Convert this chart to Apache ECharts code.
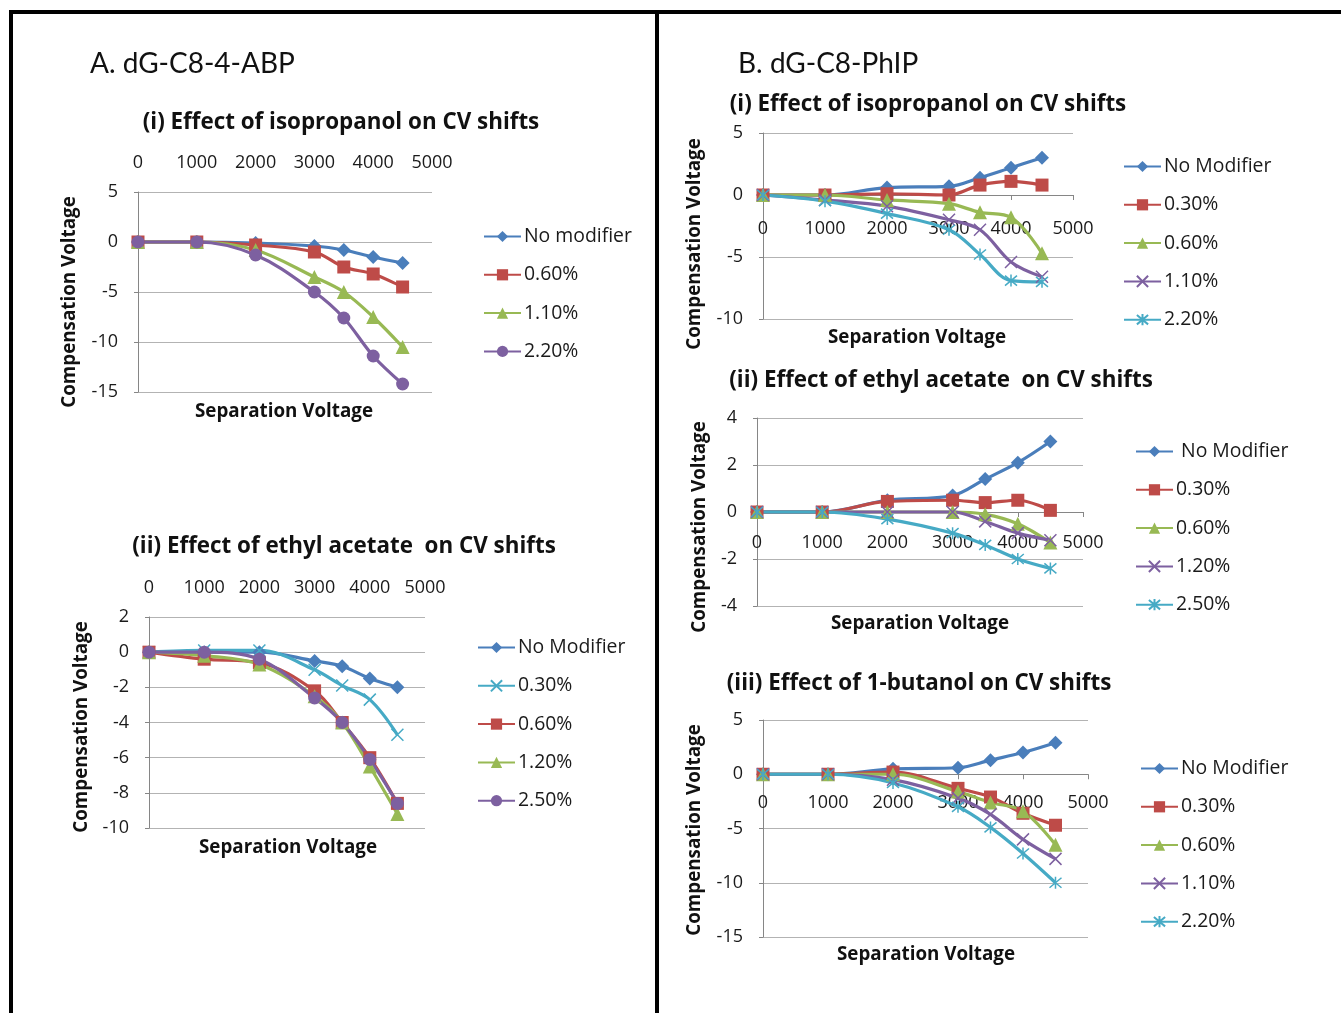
<!DOCTYPE html>
<html lang="en">
  <head>
    <meta charset="UTF-8" />
    <title>CV shifts</title>
    <script src="https://cdn.jsdelivr.net/npm/echarts@6/dist/echarts.min.js"></script>
    <style>
      body { margin: 0; background: #fff; font-family: "Open Sans", sans-serif; }
      #page { position: relative; width: 1341px; height: 1013px; overflow: hidden; }
      .chart { position: absolute; left: 0; top: 0; width: 1341px; height: 1013px; }
      .rule { position: absolute; background: #000; }
      .head { position: absolute; font-size: 28px; color: #111; line-height: 1; font-family: Lato, sans-serif; }
    </style>
  </head>
  <body>
    <div id="page">
      <div class="chart" id="a1"></div>
      <div class="chart" id="a2"></div>
      <div class="chart" id="b1"></div>
      <div class="chart" id="b2"></div>
      <div class="chart" id="b3"></div>
      <div class="rule" style="left:9px;top:10px;width:1332px;height:4px"></div>
      <div class="rule" style="left:9px;top:10px;width:4px;height:1003px"></div>
      <div class="rule" style="left:655px;top:10px;width:4px;height:1003px"></div>
      <div class="head" style="left:90px;top:48px">A. dG-C8-4-ABP</div>
      <div class="head" style="left:738px;top:48px">B. dG-C8-PhIP</div>
    </div>

    <script>
      // separation voltage, same for all panels
      const sepVoltage = [0, 1000, 2000, 3000, 3500, 4000, 4500];

      // A (i) isopropanol, dG-C8-4-ABP
      const a1Names = ["No modifier", "0.60%", "1.10%", "2.20%"];
      const a1NoMod = [0, 0, -0.1, -0.4, -0.8, -1.5, -2.1];
      const a1P060 = [0, 0, -0.3, -1.0, -2.5, -3.2, -4.5];
      const a1P110 = [0, 0, -0.8, -3.5, -5.0, -7.5, -10.5];
      const a1P220 = [0, 0, -1.3, -5.0, -7.6, -11.4, -14.2];

      // A (ii) ethyl acetate, dG-C8-4-ABP
      const a2Names = ["No Modifier", "0.30%", "0.60%", "1.20%", "2.50%"];
      const a2NoMod = [0, 0, 0, -0.5, -0.8, -1.5, -2.0];
      const a2P030 = [0, 0.1, 0.1, -1.0, -1.9, -2.7, -4.7];
      const a2P060 = [0, -0.4, -0.6, -2.2, -4.0, -6.0, -8.6];
      const a2P120 = [0, -0.2, -0.7, -2.5, -4.0, -6.5, -9.2];
      const a2P250 = [0, 0, -0.4, -2.6, -4.0, -6.1, -8.6];

      // B (i) isopropanol, dG-C8-PhIP
      const b1Names = ["No Modifier", "0.30%", "0.60%", "1.10%", "2.20%"];
      const b1NoMod = [0, 0, 0.6, 0.7, 1.4, 2.2, 3.0];
      const b1P030 = [0, 0, 0.1, 0, 0.8, 1.1, 0.8];
      const b1P060 = [0, 0, -0.4, -0.7, -1.4, -1.8, -4.7];
      const b1P110 = [0, -0.4, -0.9, -2.0, -2.8, -5.4, -6.6];
      const b1P220 = [0, -0.5, -1.5, -2.8, -4.8, -6.9, -7.0];

      // B (ii) ethyl acetate, dG-C8-PhIP
      const b2Names = [" No Modifier", "0.30%", "0.60%", "1.20%", "2.50%"];
      const b2NoMod = [0, 0, 0.5, 0.7, 1.4, 2.1, 3.0];
      const b2P030 = [0, 0, 0.45, 0.5, 0.4, 0.5, 0.07];
      const b2P060 = [0, 0, 0, 0, -0.1, -0.5, -1.3];
      const b2P120 = [0, 0, 0, 0, -0.4, -0.9, -1.2];
      const b2P250 = [0, 0, -0.3, -0.9, -1.4, -2.0, -2.4];

      // B (iii) 1-butanol, dG-C8-PhIP
      const b3Names = ["No Modifier", "0.30%", "0.60%", "1.10%", "2.20%"];
      const b3NoMod = [0, 0, 0.5, 0.6, 1.3, 2.0, 2.9];
      const b3P030 = [0, 0, 0.2, -1.3, -2.1, -3.6, -4.7];
      const b3P060 = [0, 0, 0, -1.6, -2.6, -3.4, -6.5];
      const b3P110 = [0, 0, -0.5, -2.2, -3.7, -6.0, -7.8];
      const b3P220 = [0, 0, -0.8, -3.0, -4.9, -7.3, -10.0];

      const BLUE = "#4a7ebb", RED = "#be4b48", GREEN = "#98b954",
        PURPLE = "#7d60a0", CYAN = "#46aac5";
      const CROSS = "path://M0,0L10,10M10,0L0,10";
      const STAR = "path://M0,0L10,10M10,0L0,10M5,-1L5,11";
      const FONT = "Open Sans";
      const TEXT = "#1a1a1a";
      const SYMBOL_SIZE = { diamond: 14, rect: 13, triangle: 14, circle: 13 };

      function lineSeries(name, values, color, symbol) {
        const thin = symbol === CROSS || symbol === STAR;
        return {
          name: name,
          type: "line",
          smooth: 0.35,
          data: sepVoltage.map((x, i) => [x, values[i]]),
          symbol: symbol,
          symbolSize: thin ? 12 : SYMBOL_SIZE[symbol],
          lineStyle: { color: color, width: 3.2 },
          itemStyle: { color: color, borderColor: color, borderWidth: thin ? 1.5 : 0 },
          emphasis: { disabled: true },
          z: 3,
        };
      }

      function makeChart(id, cfg) {
        const chart = echarts.init(document.getElementById(id));
        const series = cfg.series.map((s) => lineSeries(s[0], s[1], s[2], s[3]));
        // B panels: excel puts the horizontal axis on the zero line
        const zeroShift = cfg.xTop
          ? 0
          : -(cfg.grid.height * -cfg.yMin) / (cfg.yMax - cfg.yMin);
        chart.setOption({
          animation: false,
          grid: Object.assign({ outerBoundsMode: "none" }, cfg.grid),
          xAxis: {
            type: "value",
            min: 0,
            max: 5000,
            interval: 1000,
            position: cfg.xTop ? "top" : "bottom",
            offset: zeroShift,
            axisLine: {
              show: !cfg.xTop,
              onZero: false,
              lineStyle: { color: "#868686", width: 1 },
            },
            axisTick: { show: !cfg.xTop, length: 5, lineStyle: { color: "#868686" } },
            splitLine: { show: false },
            axisLabel: {
              margin: cfg.xGap,
              color: TEXT,
              fontSize: 18,
              fontFamily: FONT,
              formatter: (v) => String(v),
            },
          },
          yAxis: {
            type: "value",
            min: cfg.yMin,
            max: cfg.yMax,
            interval: cfg.yStep,
            axisLine: { show: true, lineStyle: { color: "#868686", width: 1 } },
            axisTick: { show: true, length: 4, lineStyle: { color: "#868686" } },
            splitLine: { lineStyle: { color: "#b3b3b3", width: 1 } },
            axisLabel: { margin: 20, color: TEXT, fontSize: 18, fontFamily: FONT },
          },
          legend: {
            orient: "vertical",
            left: cfg.legend[0],
            top: cfg.legend[1] - 8,
            padding: 0,
            itemWidth: 37,
            itemHeight: 14,
            itemGap: 19.3,
            textStyle: { fontSize: 19.4, color: TEXT, fontFamily: FONT, padding: [0, 0, 0, -2] },
            data: cfg.series.map((s) => s[0]),
          },
          graphic: [
            {
              type: "text",
              x: cfg.title[1],
              y: cfg.title[2] + 2,
              style: {
                text: cfg.title[0],
                font: "bold 22.4px " + FONT,
                fill: "#111",
                align: "center",
                verticalAlign: "middle",
              },
            },
            {
              type: "text",
              x: cfg.xName[0],
              y: cfg.xName[1] + 1,
              style: {
                text: "Separation Voltage",
                font: "bold 18.8px " + FONT,
                fill: "#111",
                align: "center",
                verticalAlign: "middle",
              },
            },
            {
              type: "text",
              x: cfg.yName[0],
              y: cfg.yName[1],
              rotation: Math.PI / 2,
              style: {
                text: "Compensation Voltage",
                font: "bold 18.8px " + FONT,
                fill: "#111",
                align: "center",
                verticalAlign: "middle",
              },
            },
          ],
          series: series,
        });
        return chart;
      }

      makeChart("a1", {
        grid: { left: 138, top: 192, width: 294, height: 200 },
        xTop: true,
        xGap: 20,
        yMin: -15, yMax: 5, yStep: 5,
        legend: [483, 235],
        title: ["(i) Effect of isopropanol on CV shifts", 341, 121],
        xName: [284, 411],
        yName: [70, 302],
        series: [
          [a1Names[0], a1NoMod, BLUE, "diamond"],
          [a1Names[1], a1P060, RED, "rect"],
          [a1Names[2], a1P110, GREEN, "triangle"],
          [a1Names[3], a1P220, PURPLE, "circle"],
        ],
      });

      makeChart("a2", {
        grid: { left: 149, top: 617, width: 276, height: 211 },
        xTop: true,
        xGap: 20,
        yMin: -10, yMax: 2, yStep: 2,
        legend: [477, 646],
        title: ["(ii) Effect of ethyl acetate  on CV shifts", 344, 545],
        xName: [288, 847],
        yName: [82, 727],
        series: [
          [a2Names[0], a2NoMod, BLUE, "diamond"],
          [a2Names[1], a2P030, CYAN, CROSS],
          [a2Names[2], a2P060, RED, "rect"],
          [a2Names[3], a2P120, GREEN, "triangle"],
          [a2Names[4], a2P250, PURPLE, "circle"],
        ],
      });

      makeChart("b1", {
        grid: { left: 763, top: 133, width: 310, height: 186 },
        xTop: false,
        xGap: 25,
        yMin: -10, yMax: 5, yStep: 5,
        legend: [1123, 165],
        title: ["(i) Effect of isopropanol on CV shifts", 928, 103],
        xName: [917, 337],
        yName: [695, 244],
        series: [
          [b1Names[0], b1NoMod, BLUE, "diamond"],
          [b1Names[1], b1P030, RED, "rect"],
          [b1Names[2], b1P060, GREEN, "triangle"],
          [b1Names[3], b1P110, PURPLE, CROSS],
          [b1Names[4], b1P220, CYAN, STAR],
        ],
      });

      makeChart("b2", {
        grid: { left: 757, top: 418, width: 326, height: 188 },
        xTop: false,
        xGap: 22,
        yMin: -4, yMax: 4, yStep: 2,
        legend: [1135, 450],
        title: ["(ii) Effect of ethyl acetate  on CV shifts", 941, 379],
        xName: [920, 623],
        yName: [700, 527],
        series: [
          [b2Names[0], b2NoMod, BLUE, "diamond"],
          [b2Names[1], b2P030, RED, "rect"],
          [b2Names[2], b2P060, GREEN, "triangle"],
          [b2Names[3], b2P120, PURPLE, CROSS],
          [b2Names[4], b2P250, CYAN, STAR],
        ],
      });

      makeChart("b3", {
        grid: { left: 763, top: 720, width: 325, height: 217 },
        xTop: false,
        xGap: 20,
        yMin: -15, yMax: 5, yStep: 5,
        legend: [1140, 767],
        title: ["(iii) Effect of 1-butanol on CV shifts", 919, 682],
        xName: [926, 954],
        yName: [695, 830],
        series: [
          [b3Names[0], b3NoMod, BLUE, "diamond"],
          [b3Names[1], b3P030, RED, "rect"],
          [b3Names[2], b3P060, GREEN, "triangle"],
          [b3Names[3], b3P110, PURPLE, CROSS],
          [b3Names[4], b3P220, CYAN, STAR],
        ],
      });
    </script>
  </body>
</html>
